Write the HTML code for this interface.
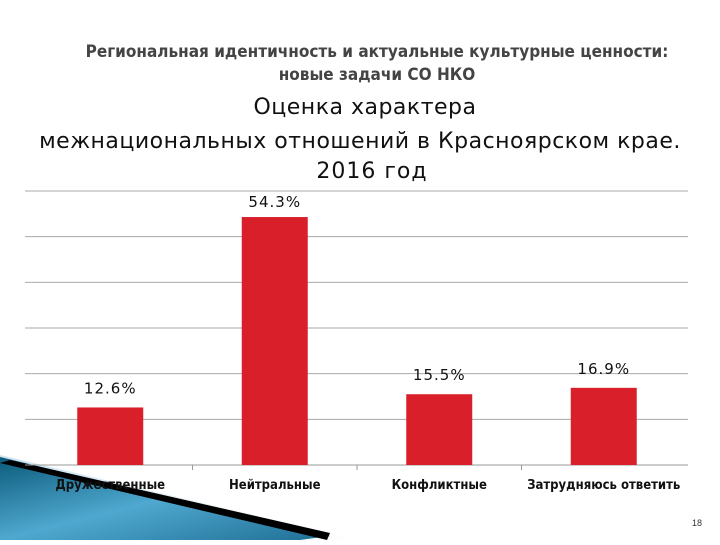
<!DOCTYPE html>
<html><head><meta charset="utf-8"><style>
body{margin:0;width:720px;height:540px;background:#fff;overflow:hidden;font-family:"Liberation Sans","DejaVu Sans",sans-serif}
</style></head><body>
<svg width="720" height="540" xmlns="http://www.w3.org/2000/svg">
<defs><linearGradient id="bg" x1="0" y1="0" x2="1" y2="1"><stop offset="0" stop-color="#0b5a7a"/><stop offset="0.5" stop-color="#4fa8cf"/><stop offset="1" stop-color="#1f6f95"/></linearGradient>
<linearGradient id="lg" x1="0" y1="0" x2="1" y2="0"><stop offset="0" stop-color="#cfe3ef"/><stop offset="1" stop-color="#ffffff"/></linearGradient></defs>
<text x="377" y="57" text-anchor="middle" font-size="17" font-weight="bold" fill="#444" font-family="DejaVu Sans Condensed, DejaVu Sans, sans-serif">Региональная идентичность и актуальные культурные ценности:</text>
<text x="377" y="80" text-anchor="middle" font-size="17" font-weight="bold" fill="#444" font-family="DejaVu Sans Condensed, DejaVu Sans, sans-serif">новые задачи СО НКО</text>
<g font-family="DejaVu Sans, sans-serif" fill="#111" text-anchor="middle">
<text x="365" y="114" font-size="22" letter-spacing="0.5">Оценка характера</text>
<text x="360" y="148" font-size="22" letter-spacing="0.5">межнациональных отношений в Красноярском крае.</text>
<text x="372" y="178" font-size="22" letter-spacing="1">2016 год</text>
</g>
<polygon points="0,455 0,540 360,540" fill="url(#lg)"/>
<polygon points="0,457 0,540 300,540 330,536" fill="url(#bg)"/>
<polygon points="10,460 330,533 327,540 0,463" fill="#000"/>
<g id="chart"></g>
<text x="697" y="526" text-anchor="middle" font-size="9" fill="#333">18</text>
</svg>
<script>
const categories=["Дружественные","Нейтральные","Конфликтные","Затрудняюсь ответить"];
const values=[12.6,54.3,15.5,16.9];
const labels=["12.6%","54.3%","15.5%","16.9%"];
const yTicks=[0,10,20,30,40,50,60];
const NS="http://www.w3.org/2000/svg";
const g=document.getElementById('chart');
const x0=28,x1=686,yBase=465,yTop=191,yMax=60;
const y=v=>yBase-(v/yMax)*(yBase-yTop);
const bw=(x1-x0)/categories.length;
const xc=i=>x0+bw*(i+0.5);
function mk(t,a){const e=document.createElementNS(NS,t);for(const k in a)e.setAttribute(k,a[k]);g.appendChild(e);return e;}
yTicks.forEach(t=>{const l=mk('line',{x1:25,x2:688,y1:y(t),y2:y(t),stroke:t===0?'#999':'#aaa','stroke-width':1});

});
for(let i=1;i<categories.length;i++){const l=mk('line',{x1:x0+bw*i,x2:x0+bw*i,y1:yBase,y2:yBase+5,stroke:'#999'});

}
values.forEach((v,i)=>{
const r=mk('rect',{x:xc(i)-33,y:y(v),width:66,height:yBase-y(v),fill:'#d9202a'});


const t=mk('text',{x:xc(i),y:Math.max(y(v)-14,207),'text-anchor':'middle','font-size':15,'letter-spacing':1,fill:'#111','font-family':'DejaVu Sans, sans-serif'});
t.textContent=labels[i];


const c=mk('text',{x:xc(i),y:489,'text-anchor':'middle','font-size':13,'font-weight':'bold',fill:'#111','font-family':'DejaVu Sans Condensed, DejaVu Sans, sans-serif'});
c.textContent=categories[i];


});
</script>
</body></html>
